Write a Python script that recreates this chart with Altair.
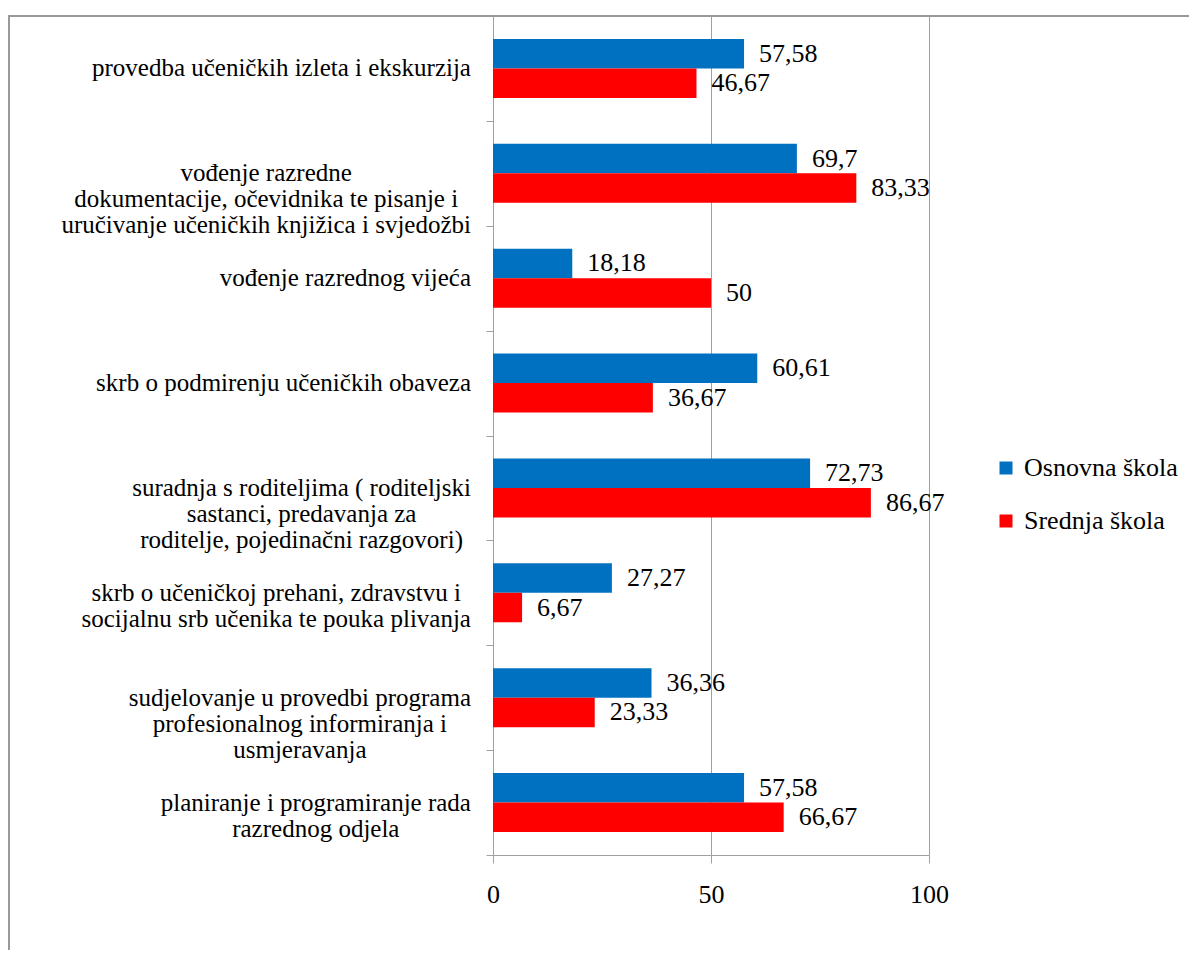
import altair as alt
import pandas as pd

categories = [
    "provedba učeničkih izleta i ekskurzija",
    "vođenje razredne\ndokumentacije, očevidnika te pisanje i\nuručivanje učeničkih knjižica i svjedožbi",
    "vođenje razrednog vijeća",
    "skrb o podmirenju učeničkih obaveza",
    "suradnja s roditeljima ( roditeljski\nsastanci, predavanja za\nroditelje, pojedinačni razgovori)",
    "skrb o učeničkoj prehani, zdravstvu i\nsocijalnu srb učenika te pouka plivanja",
    "sudjelovanje u provedbi programa\nprofesionalnog informiranja i\nusmjeravanja",
    "planiranje i programiranje rada\nrazrednog odjela",
]
osnovna = [57.58, 69.7, 18.18, 60.61, 72.73, 27.27, 36.36, 57.58]
srednja = [46.67, 83.33, 50, 36.67, 86.67, 6.67, 23.33, 66.67]
schools = ["Osnovna škola", "Srednja škola"]
colors = ["#0070C0", "#FF0000"]
x_ticks = [0, 50, 100]

FONT = "Liberation Serif"
GRID = "#a0a0a0"
PLOT_W = 436
PLOT_H = 839
CAT_FONT = 25
CAT_LINE = 26
CAT_GAP = 22

rows = []
for c, a, b in zip(categories, osnovna, srednja):
    rows.append({"cat": c, "school": schools[0], "value": a})
    rows.append({"cat": c, "school": schools[1], "value": b})
df = pd.DataFrame(rows)
df["label"] = df["value"].map(lambda v: f"{v:g}".replace(".", ","))

# Times / Liberation Serif advance widths (per 1000 em), used to centre label blocks
W = {' ': 250, ',': 250, '(': 333, ')': 333, 'a': 444, 'b': 500, 'c': 444, 'd': 500,
     'e': 444, 'f': 333, 'g': 500, 'h': 500, 'i': 278, 'j': 278, 'k': 500, 'l': 278,
     'm': 778, 'n': 500, 'o': 500, 'p': 500, 'q': 500, 'r': 333, 's': 389, 't': 278,
     'u': 500, 'v': 500, 'w': 722, 'x': 500, 'y': 500, 'z': 444, 'č': 444, 'ć': 444,
     'š': 389, 'ž': 444, 'đ': 500}


def text_width(s, size):
    return sum(W.get(ch, 500) for ch in s) / 1000.0 * size


cat_rows = []
for c in categories:
    lines = c.split("\n")
    w = max(text_width(l, CAT_FONT) for l in lines)
    cat_rows.append({"cat": c, "lines": lines,
                     "lx": -(CAT_GAP + w / 2.0) / PLOT_W * 100.0})

xscale = alt.Scale(domain=[0, 100], nice=False, zero=False)
ysort = categories
yscale = alt.Scale(paddingInner=0, paddingOuter=0)
offscale = alt.Scale(domain=schools, paddingInner=0, paddingOuter=0.78)

x_axis = alt.Axis(values=x_ticks, grid=True, gridColor=GRID, domainColor=GRID,
                  tickColor=GRID, tickSize=8, labelFont=FONT, labelFontSize=26,
                  labelColor="black", labelPadding=18, labelFlush=False, title=None)
y_axis = alt.Axis(labels=False, title=None, ticks=True, tickSize=7, tickBand="extent",
                  domainColor=GRID, tickColor=GRID, grid=False)

bars = alt.Chart(df).mark_bar().encode(
    x=alt.X("value:Q", scale=xscale, axis=x_axis),
    y=alt.Y("cat:N", sort=ysort, scale=yscale, axis=y_axis),
    yOffset=alt.YOffset("school:N", sort=schools, scale=offscale),
    color=alt.Color("school:N", title=None,
                    scale=alt.Scale(domain=schools, range=colors),
                    legend=alt.Legend(orient="none", legendX=500, legendY=439,
                                      symbolType="square", symbolSize=169,
                                      symbolStrokeWidth=0, labelFont=FONT,
                                      labelFontSize=26, labelColor="black",
                                      labelLimit=400, rowPadding=27, labelOffset=5,
                                      padding=0)),
)

values = alt.Chart(df).mark_text(align="left", baseline="middle", dx=15, font=FONT,
                                 fontSize=26, color="black").encode(
    x=alt.X("value:Q", scale=xscale),
    y=alt.Y("cat:N", sort=ysort, scale=yscale),
    yOffset=alt.YOffset("school:N", sort=schools, scale=offscale),
    text=alt.Text("label:N"),
)

cat_labels = alt.Chart(alt.Data(values=cat_rows)).mark_text(
    align="center", baseline="middle", font=FONT, fontSize=CAT_FONT,
    lineHeight=CAT_LINE, color="black").encode(
    x=alt.X("lx:Q", scale=xscale),
    y=alt.Y("cat:N", sort=ysort, scale=yscale),
    text=alt.Text("lines:N"),
)

frame_left = alt.Chart(alt.Data(values=[{"k": 1}])).mark_rule(
    color="#999999", strokeWidth=2).encode(
    x=alt.value(-484), y=alt.value(0), y2=alt.value(960))
frame_top = alt.Chart(alt.Data(values=[{"k": 1}])).mark_rule(
    color="#999999", strokeWidth=2).encode(
    x=alt.value(-485), x2=alt.value(720), y=alt.value(0))

chart = alt.layer(frame_left, frame_top, bars, values, cat_labels).properties(
    width=PLOT_W, height=PLOT_H,
    padding={"left": 485, "top": 8, "right": 260, "bottom": 95},
    autosize=alt.AutoSizeParams(type="none"),
).configure_view(strokeWidth=0)

chart.save("out.html", embed_options={"renderer": "svg", "actions": False})
